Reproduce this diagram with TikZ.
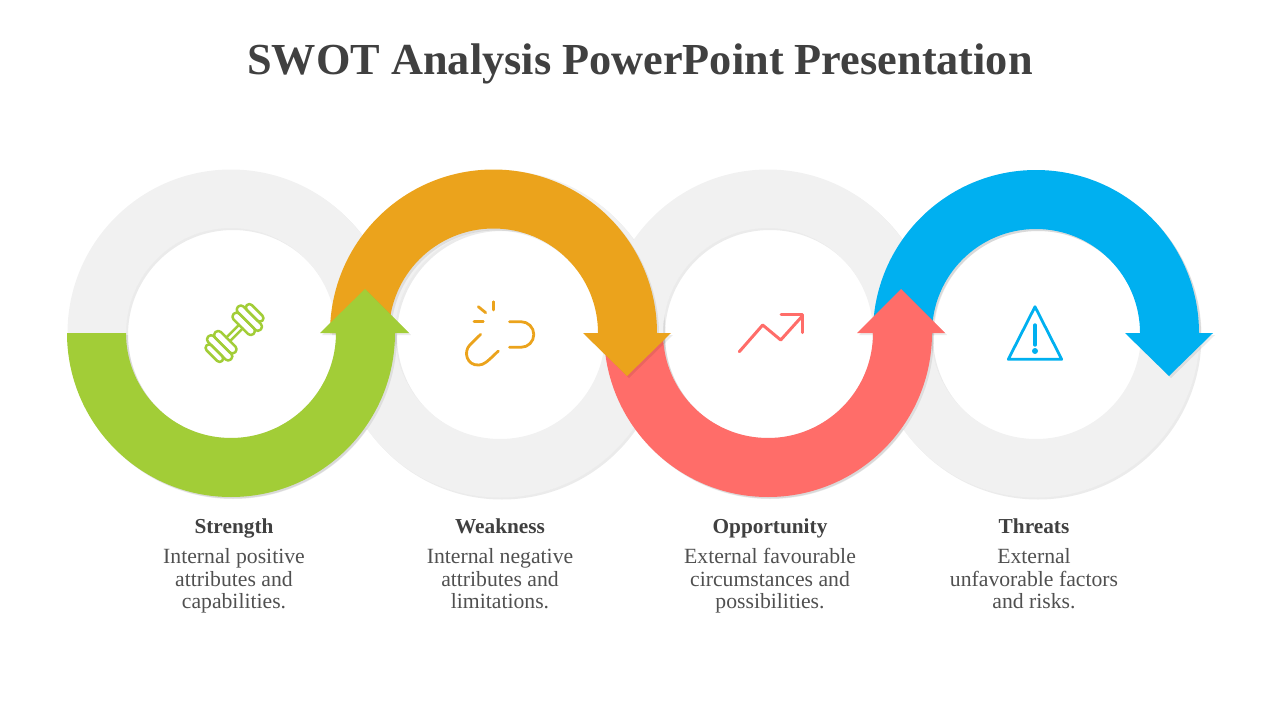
\documentclass[tikz,border=0pt]{standalone}
\usepackage{fontspec}
\setmainfont{Liberation Serif}
\usepackage{xcolor}
\usepackage{tikz}
\definecolor{ringgrey}{HTML}{F1F1F1}
\definecolor{swotgreen}{HTML}{A2CD37}
\definecolor{swotorange}{HTML}{EBA31C}
\definecolor{swotred}{HTML}{FF6D69}
\definecolor{swotblue}{HTML}{00B0F0}
\definecolor{titlegrey}{HTML}{404040}
\definecolor{bodygrey}{HTML}{505050}
\tikzstyle{softshadow} = [preaction={fill=black, fill opacity=0.08, even odd rule, transform canvas={xshift=2pt, yshift=-2pt}}]
\tikzstyle{ring} = [softshadow, fill=ringgrey, even odd rule]
\tikzstyle{band} = [softshadow]
\tikzstyle{icon} = [line width=2.5pt, line cap=round, line join=round]
\tikzstyle{heading} = [text=titlegrey, text height=15pt, text depth=5pt, font=\fontsize{21.3}{22}\selectfont\bfseries]
\tikzstyle{body} = [text=bodygrey, align=center, execute at begin node=\strut, execute at end node=\strut, font=\fontsize{21.7}{22.5}\selectfont]

\begin{document}
\begin{tikzpicture}[x=1pt, y=-1pt, node distance=54pt]
        \useasboundingbox (0,0) rectangle (1280,720);
        % title
        \node (title) [text=titlegrey, font=\fontsize{44.3}{48}\selectfont\bfseries] at (640,64) {SWOT Analysis PowerPoint Presentation};
        % grey rings
        \path [ring] (231,333) circle (163.5) (231,333) circle (105);
        \path [ring] (500,334) circle (163.5) (500,334) circle (105);
        \path [ring] (768,333) circle (163.5) (768,333) circle (105);
        \path [ring] (1036,334) circle (163.5) (1036,334) circle (105);
        % arrows, last one on top
        \path [band, fill=swotblue] (873,333) arc (180:360:163) -- (1213,333) -- (1169,376) -- (1125,333) -- (1140,333) arc (0:-180:104) -- cycle;
        \path [band, fill=swotred] (604,333) arc (180:0:164) -- (945,333) -- (901,289) -- (857,333) -- (873,333) arc (0:180:105) -- cycle;
        \path [band, fill=swotorange] (330,333) arc (180:360:163.5) -- (671,333) -- (627,376) -- (583,333) -- (598,333) arc (0:-180:104.5) -- cycle;
        \path [band, fill=swotgreen] (67,333) arc (180:0:164) -- (409,333) -- (365,289) -- (320,333) -- (336,333) arc (0:180:105) -- cycle;
        % dumbbell
        \begin{scope}[shift={(234.5,333)}, rotate=45, draw=swotgreen, icon]
            \draw (-9,-2.5) -- (9,-2.5) (-9,2.5) -- (9,2.5);
            \draw [rounded corners=3.5pt] (9,-14) rectangle (17,14);
            \draw [rounded corners=3.5pt] (17,-16) rectangle (25,16);
            \draw [rounded corners=3.5pt] (25,-11) rectangle (32,11);
            \draw [rounded corners=3.5pt] (-17,-14) rectangle (-9,14);
            \draw [rounded corners=3.5pt] (-25,-16) rectangle (-17,16);
            \draw [rounded corners=3.5pt] (-32,-11) rectangle (-25,11);
        \end{scope}
        % broken link
        \draw [icon, line width=2.8pt, draw=swotorange] (509.5,321.7) -- (521,321.7) arc (-90:90:12.8) -- (509.5,347.3);
        \draw [icon, line width=2.8pt, draw=swotorange] (480.7,334.3) -- (469.8,345) .. controls (463,352) and (467,366) .. (479,365) .. controls (484,364.5) and (486,363) .. (498.3,351);
        \draw [icon, line width=2.8pt, draw=swotorange] (493.3,301.7) -- (493.3,310);
        \draw [icon, line width=2.8pt, draw=swotorange] (478.3,306.7) -- (485.7,312.7);
        \draw [icon, line width=2.8pt, draw=swotorange] (474,321.7) -- (483.3,321.7);
        % trend line
        \draw [icon, line width=3pt, draw=swotred] (739.3,351.7) -- (762.7,325) -- (780.7,340) -- (801.7,316.7);
        \draw [icon, line width=3pt, draw=swotred] (781,314.3) -- (802.3,314.3) -- (802.3,332.7);
        % warning sign
        \draw [icon, line width=2.8pt, draw=swotblue] (1035,306.7) -- (1061.7,359.3) -- (1008.3,359.3) -- cycle;
        \draw [icon, line width=3.4pt, draw=swotblue] (1035,325) -- (1035,345);
        \fill [swotblue] (1035,351) circle (3);
        % labels
        \node (strength) [heading] at (234,528) {Strength};
        \node (strengthtext) [body, below of=strength] {Internal positive\\attributes and\\capabilities.};
        \node (weakness) [heading] at (500,528) {Weakness};
        \node (weaknesstext) [body, below of=weakness] {Internal negative\\attributes and\\limitations.};
        \node (opportunity) [heading] at (770,528) {Opportunity};
        \node (opportunitytext) [body, below of=opportunity] {External favourable\\circumstances and\\possibilities.};
        \node (threats) [heading] at (1034,528) {Threats};
        \node (threatstext) [body, below of=threats] {External\\unfavorable factors\\and risks.};
\end{tikzpicture}
\end{document}
